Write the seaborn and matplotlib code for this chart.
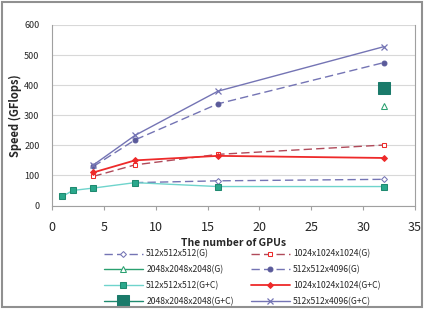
import matplotlib
matplotlib.use("Agg")
import matplotlib.pyplot as plt
import seaborn as sns
from matplotlib.patches import Rectangle

sns.set_style("white")
plt.rcParams['font.family'] = ['Noto Sans CJK JP', 'DejaVu Sans']

# data
gpus_4 = [4, 8, 16, 32]
gpus_512 = [1, 2, 4, 8, 16, 32]
gpus_512g = [8, 16, 32]
gpus_32 = [32]

speed_512_g = [76, 82, 87]
speed_1024_g = [97, 135, 170, 201]
speed_2048_g = [330]
speed_4096_g = [130, 218, 338, 475]
speed_512_gc = [30, 50, 58, 76, 63, 63]
speed_1024_gc = [110, 150, 165, 158]
speed_2048_gc = [392]
speed_4096_gc = [135, 233, 380, 528]

labels = ["512x512x512(G)", "1024x1024x1024(G)", "2048x2048x2048(G)", "512x512x4096(G)",
          "512x512x512(G+C)", "1024x1024x1024(G+C)", "2048x2048x2048(G+C)", "512x512x4096(G+C)"]

purple = "#7474b4"
red = "#ee2a2a"
teal = "#2aa88c"

series = [
    (gpus_512g, speed_512_g, dict(color=purple, ls=(0, (6, 3)), lw=1.0, marker="D", ms=3,
                                  mfc="white", mec=purple)),
    (gpus_4, speed_1024_g, dict(color="#b04a5a", ls=(0, (6, 3)), lw=1.0, marker="s", ms=3.5,
                                mfc="white", mec=red)),
    (gpus_32, speed_2048_g, dict(color="#2aa070", lw=1.0, marker="^", ms=4, mfc="white", mec="#2aa070")),
    (gpus_4, speed_4096_g, dict(color=purple, ls=(0, (6, 3)), lw=1.0, marker="o", ms=3.5,
                                mfc="#5a5a9a", mec="#5a5a9a")),
    (gpus_512, speed_512_gc, dict(color="#6fd4cc", lw=1.0, marker="s", ms=5, mfc=teal, mec="#1f8a70")),
    (gpus_4, speed_1024_gc, dict(color=red, lw=1.3, marker="D", ms=3, mfc=red, mec=red)),
    (gpus_32, speed_2048_gc, dict(color="#1f8a70", lw=1.0, marker="s", ms=8, mfc="#1a7a6a", mec="#1a7a6a")),
    (gpus_4, speed_4096_gc, dict(color=purple, lw=1.0, marker="x", ms=4.5, mew=0.9, mec=purple)),
]

fig = plt.figure(figsize=(4.25, 3.09), dpi=100)
ax = fig.add_axes([52 / 425, 1 - 205.5 / 309, (415 - 52) / 425, (205.5 - 25) / 309])

handles = []
for (x, y, style), lab in zip(series, labels):
    sns.lineplot(x=x, y=y, ax=ax, label=lab, **style)
    handles.append(ax.get_lines()[-1])

ax.set_xlim(0, 35)
ax.set_ylim(0, 600)
ax.set_xticks(range(0, 36, 5))
ax.set_yticks(range(0, 601, 100))
ax.yaxis.grid(True, color="#d8d8d8", lw=0.8)
ax.set_axisbelow(True)
for side in ["left", "right", "bottom"]:
    ax.spines[side].set_color("#a0a0a0")
    ax.spines[side].set_linewidth(0.8)
ax.spines["top"].set_visible(False)
ax.tick_params(axis="x", labelsize=9, length=3, direction="out", color="#a0a0a0", pad=8,
               bottom=True)
ax.tick_params(axis="y", labelsize=6.5, length=0, pad=9)
ax.set_ylabel("Speed (GFlops)", fontsize=8, fontweight="bold")
ax.yaxis.set_label_coords(-0.083, 0.5)
ax.set_xlabel("The number of GPUs", fontsize=7.5, fontweight="bold", labelpad=3)

order = [0, 2, 4, 6, 1, 3, 5, 7]
ax.legend([handles[i] for i in order], [labels[i] for i in order], ncol=2,
          loc="upper left", bbox_to_anchor=(98 / 425, 1 - 243.5 / 309), bbox_transform=fig.transFigure,
          fontsize=6.2, frameon=True, facecolor="white", edgecolor="white", framealpha=1,
          handlelength=4.5, columnspacing=2.0, labelspacing=0.77, borderpad=0.2,
          handletextpad=0.4)

fig.patches.append(Rectangle((0.004, 0.005), 0.99, 0.99, transform=fig.transFigure,
                             fill=False, ec="#909090", lw=1.5))

fig.savefig("out.png", dpi=100)
